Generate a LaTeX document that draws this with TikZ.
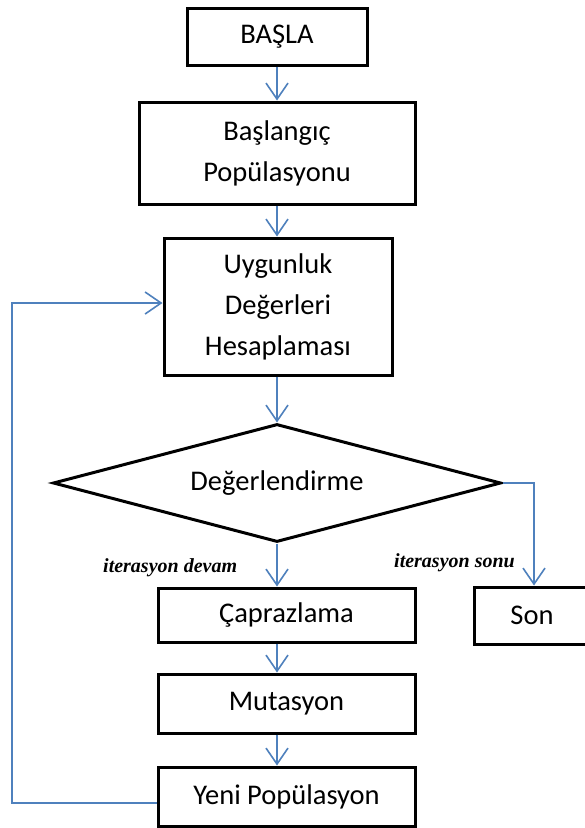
\documentclass[tikz,border=0pt]{standalone}
\usepackage{fontspec}
\setmainfont{Carlito}
\newfontfamily\notefont{Liberation Serif}
\usetikzlibrary{shapes.geometric,arrows.meta}
\definecolor{flowblue}{HTML}{4F81BD}
\tikzset{
  stepbox/.style={draw=black, line width=3bp, rectangle, inner sep=0pt,
    align=center, font=\fontsize{28.5bp}{41bp}\selectfont},
  decision/.style={draw=black, line width=3bp, diamond, shape aspect=3.8,
    inner sep=0pt, font=\fontsize{28.5bp}{41bp}\selectfont},
  flow/.style={draw=flowblue, line width=1.6bp,
    -{Straight Barb[length=16bp,width=22bp,line width=1.6bp]}},
  note/.style={inner sep=0pt, font=\notefont\bfseries\itshape\fontsize{20bp}{23bp}\selectfont}
}
\begin{document}
\begin{tikzpicture}[x=1bp, y=-1bp]
  \useasboundingbox (0,0) rectangle (585,828);
  \fill[white] (0,0) rectangle (585,828);

  % process steps
  \node[stepbox, minimum width=180bp, minimum height=56bp] (basla) at (277,37) {BAŞLA};
  \node[stepbox, minimum width=276bp, minimum height=102bp] (bpop) at (277,153) {Başlangıç\\Popülasyonu};
  \node[stepbox, minimum width=228bp, minimum height=137bp] (uyg) at (278,306.5) {Uygunluk\\Değerleri\\Hesaplaması};
  \node[decision, minimum width=448bp, minimum height=118bp] (deg) at (277,483) {Değerlendirme};
  \node[stepbox, minimum width=257bp, minimum height=54bp] (cap) at (286.5,615) {Çaprazlama};
  \node[stepbox, minimum width=257bp, minimum height=59bp] (mut) at (286.5,703.5) {Mutasyon};
  \node[stepbox, minimum width=257bp, minimum height=59bp] (yeni) at (286.5,796.5) {Yeni Popülasyon};
  \node[stepbox, minimum width=116bp, minimum height=57bp] (son) at (532,615.5) {Son};

  % branch labels
  \node[note, anchor=base west] (ldevam) at (103,572) {iterasyon devam};
  \node[note, anchor=base west] (lsonu) at (394,567) {iterasyon sonu};

  % main flow
  \draw[flow] (basla.south) -- (bpop.north);
  \draw[flow] (bpop.south) -- (uyg.north -| bpop.south);
  \draw[flow] (uyg.south -| deg.north) -- (deg.north);
  \draw[flow] (deg.south) -- (cap.north -| deg.south);
  \draw[flow] (cap.south -| deg.south) -- (mut.north -| deg.south);
  \draw[flow] (mut.south -| deg.south) -- (yeni.north -| deg.south);

  % exit branch
  \coordinate (ecorner) at (534,483);
  \draw[flow] (deg.east) -- (ecorner) -- (son.north -| ecorner);

  % loop back to fitness evaluation
  \coordinate (lbot) at (12,803);
  \coordinate (ltop) at (12,303);
  \draw[flow] (yeni.west |- lbot) -- (lbot) -- (ltop) -- (uyg.west |- ltop);
\end{tikzpicture}
\end{document}
